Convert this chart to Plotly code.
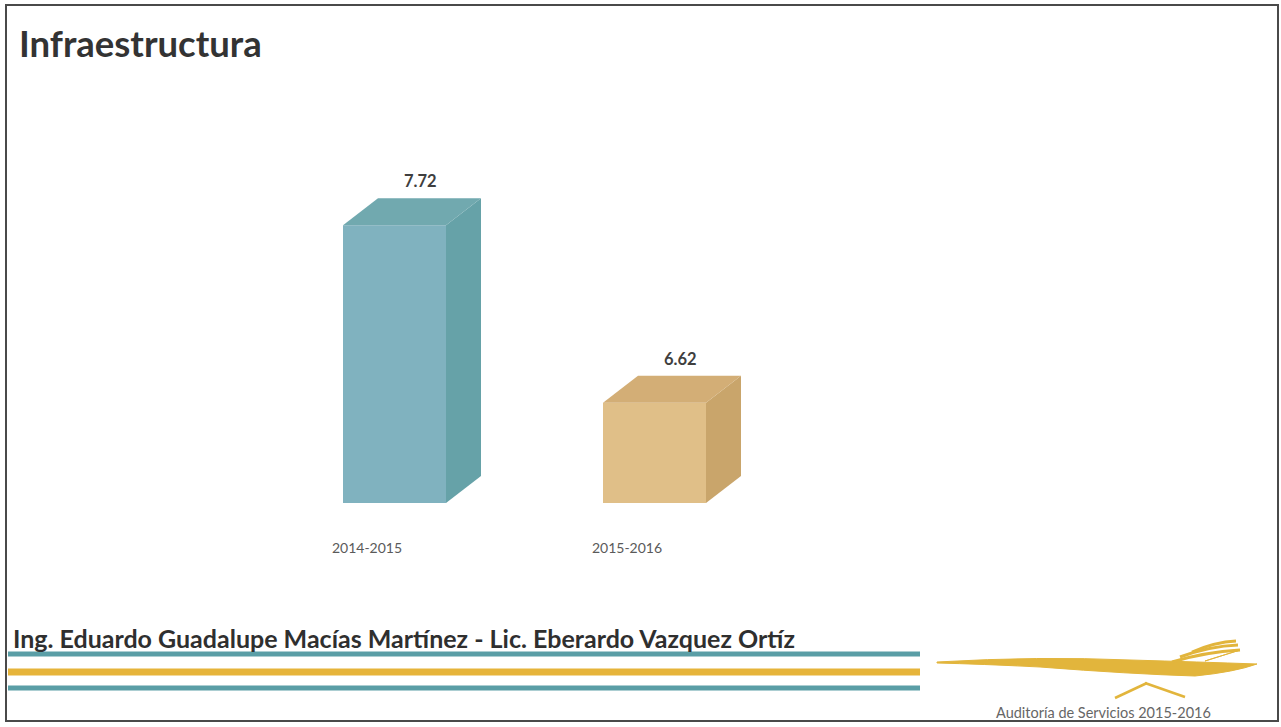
import plotly.graph_objects as go

# Canvas size in pixels
W, H = 1281, 727

# Chart data
periods = ["2014-2015", "2015-2016"]
indices = [7.72, 6.62]

# Face colours for each box (front, right side, top)
front_colors = ["#80b2bf", "#e0bf88"]
side_colors = ["#66a2a8", "#c9a56b"]
top_colors = ["#71a9af", "#d3ae76"]

# Axis geometry (pixel placement of the plotting area)
AXIS_MIN, AXIS_MAX = 6.0, 8.0
X_RANGE = [-0.5, 2.0]
PLOT_LEFT, PLOT_RIGHT = 237, 887
PLOT_BOTTOM, PLOT_TOP = 503, 180

px_per_x = (PLOT_RIGHT - PLOT_LEFT) / (X_RANGE[1] - X_RANGE[0])
px_per_y = (PLOT_BOTTOM - PLOT_TOP) / (AXIS_MAX - AXIS_MIN)

# Box proportions, in axis units
BAR_W = 103 / px_per_x
BAR_OFF = -24 / px_per_x
DEPTH_X = 35 / px_per_x
DEPTH_Y = 27 / px_per_y


def paper(x, y):
    """Pixel position -> paper fraction."""
    return x / W, 1 - y / H


fig = go.Figure()

for i, (v, fc, sc, tc) in enumerate(zip(indices, front_colors, side_colors, top_colors)):
    x0 = i + BAR_OFF
    x1 = x0 + BAR_W
    # front face
    fig.add_trace(go.Bar(
        x=[i], y=[v - AXIS_MIN], base=AXIS_MIN, width=BAR_W, offset=BAR_OFF,
        marker=dict(color=fc, line=dict(width=0)), showlegend=False, hoverinfo="skip",
    ))
    # right side face
    fig.add_trace(go.Scatter(
        x=[x1, x1, x1 + DEPTH_X, x1 + DEPTH_X, x1],
        y=[AXIS_MIN, v, v + DEPTH_Y, AXIS_MIN + DEPTH_Y, AXIS_MIN],
        mode="lines", fill="toself", fillcolor=sc, line=dict(width=0, color=sc),
        showlegend=False, hoverinfo="skip",
    ))
    # top face
    fig.add_trace(go.Scatter(
        x=[x0, x1, x1 + DEPTH_X, x0 + DEPTH_X, x0],
        y=[v, v, v + DEPTH_Y, v + DEPTH_Y, v],
        mode="lines", fill="toself", fillcolor=tc, line=dict(width=0, color=tc),
        showlegend=False, hoverinfo="skip",
    ))
    # value label above the box
    fig.add_annotation(
        x=x0 + BAR_W / 2 + DEPTH_X * 0.75, y=v + DEPTH_Y, xref="x", yref="y",
        text=f"<b>{v:.2f}</b>", showarrow=False, yanchor="middle", yshift=17,
        font=dict(family="Lato", size=16.5, color="#3f3f3f"),
    )

# Slide title
tx, ty = paper(17, 43)
fig.add_annotation(x=tx, y=ty, xref="paper", yref="paper", xanchor="left", yanchor="middle",
                   text="<b>Infraestructura</b>", showarrow=False,
                   font=dict(family="Lato", size=36.5, color="#333333"))

# Authors line
fx, fy = paper(11, 638)
fig.add_annotation(x=fx, y=fy, xref="paper", yref="paper", xanchor="left", yanchor="middle",
                   text="<b>Ing. Eduardo Guadalupe Macías Martínez - Lic. Eberardo Vazquez Ortíz</b>",
                   showarrow=False, font=dict(family="Lato", size=25, color="#2f2f2f"))

# Footer caption
cx, cy = paper(1103, 712)
fig.add_annotation(x=cx, y=cy, xref="paper", yref="paper", xanchor="center", yanchor="middle",
                   text="Auditoría de Servicios 2015-2016", showarrow=False,
                   font=dict(family="Lato", size=14.5, color="#666666"))

shapes = []

# Slide frame
bx0, by0 = paper(6, 5)
bx1, by1 = paper(1278, 721)
shapes.append(dict(type="rect", xref="paper", yref="paper", x0=bx0, y0=by1, x1=bx1, y1=by0,
                   line=dict(color="#4a4a4a", width=2), fillcolor="rgba(0,0,0,0)", layer="above"))

# Decorative stripes
for y, color, width in [(654, "#5a9ea6", 5), (672, "#e6b43a", 7), (688, "#5a9ea6", 5)]:
    sx0, sy = paper(8, y)
    sx1, _ = paper(920, y)
    shapes.append(dict(type="line", xref="paper", yref="paper", x0=sx0, y0=sy, x1=sx1, y1=sy,
                       line=dict(color=color, width=width)))


def path_from(points_cmds):
    out = []
    for cmd, pts in points_cmds:
        coords = []
        for (x, y) in pts:
            ux, uy = paper(x, y)
            coords.append(f"{ux:.5f},{uy:.5f}")
        out.append(cmd + " " + " ".join(coords))
    return " ".join(out)


gold = "#e2b53c"
# Logo body: long tapered tail swelling towards the head
body = path_from([
    ("M", [(937, 662)]),
    ("Q", [(1040, 656), (1130, 660)]),
    ("Q", [(1200, 662), (1257, 664)]),
    ("Q", [(1235, 672), (1195, 676)]),
    ("Q", [(1130, 674), (1040, 667)]),
    ("Q", [(980, 664), (937, 663)]),
    ("Z", []),
])
shapes.append(dict(type="path", xref="paper", yref="paper", path=body, fillcolor=gold,
                   line=dict(color=gold, width=1)))
# Head wedge pointing to the beak
head = path_from([
    ("M", [(1205, 661)]),
    ("L", [(1240, 650), (1257, 664)]),
    ("Z", []),
])
shapes.append(dict(type="path", xref="paper", yref="paper", path=head, fillcolor=gold,
                   line=dict(color=gold, width=1)))
# Crest feathers sweeping back and up
for pts in [
    [(1172, 662), (1205, 652), (1240, 650)],
    [(1180, 657), (1210, 646), (1238, 645)],
    [(1192, 652), (1215, 642), (1236, 641)],
]:
    p = path_from([("M", [pts[0]]), ("Q", [pts[1], pts[2]])])
    shapes.append(dict(type="path", xref="paper", yref="paper", path=p,
                       line=dict(color=gold, width=3)))
# Legs
for (a, b) in [((1115, 698), (1147, 683)), ((1145, 683), (1185, 697))]:
    ax, ay = paper(*a)
    bx, by = paper(*b)
    shapes.append(dict(type="line", xref="paper", yref="paper", x0=ax, y0=ay, x1=bx, y1=by,
                       line=dict(color=gold, width=2.5)))

fig.update_layout(
    width=W, height=H,
    margin=dict(l=0, r=0, t=0, b=0),
    paper_bgcolor="white", plot_bgcolor="white",
    shapes=shapes,
    barmode="overlay",
    xaxis=dict(
        domain=[PLOT_LEFT / W, PLOT_RIGHT / W], range=X_RANGE,
        tickvals=list(range(len(periods))), ticktext=periods,
        tickfont=dict(family="Lato", size=14, color="#5a5a5a"),
        ticklabelstandoff=35, showgrid=False, zeroline=False, showline=False, ticks="",
        fixedrange=True,
    ),
    yaxis=dict(
        domain=[1 - PLOT_BOTTOM / H, 1 - PLOT_TOP / H], range=[AXIS_MIN, AXIS_MAX],
        visible=False, showgrid=False, zeroline=False, fixedrange=True,
    ),
)

fig.write_html("out.html")
